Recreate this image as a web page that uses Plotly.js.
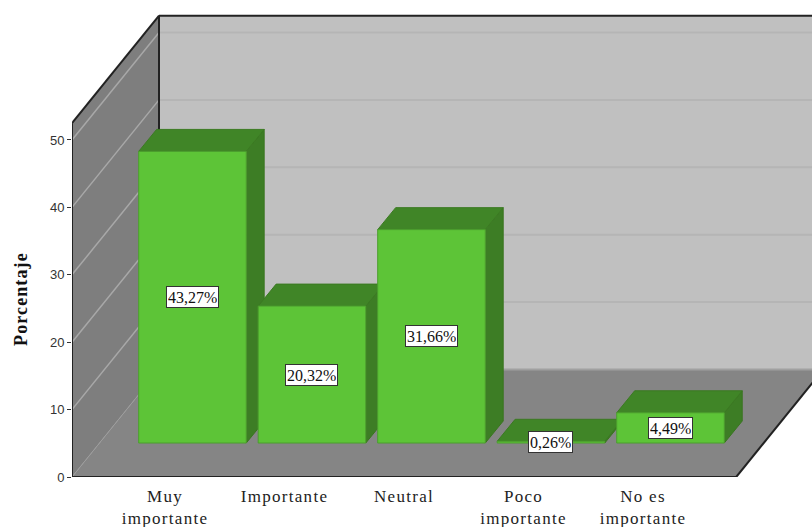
<!DOCTYPE html>
<html>
<head>
<meta charset="utf-8">
<script src="https://cdn.plot.ly/plotly-3.0.1.min.js"></script>
<style>
html,body{margin:0;padding:0;background:#fff}
#chart{width:812px;height:527px}
/* Wide tracking on the category names and the axis title */
#chart .xtick text{letter-spacing:1.3px}
#chart .annotation[data-index="5"] text{letter-spacing:1.1px}
</style>
</head>
<body>
<div id="chart"></div>
<script>
// Survey answers, percentage of respondents
const categories = ['Muy<br>importante', 'Importante', 'Neutral', 'Poco<br>importante', 'No es<br>importante'];
const percentages = [43.27, 20.32, 31.66, 0.26, 4.49];
const percentLabels = ['43,27%', '20,32%', '31,66%', '0,26%', '4,49%'];
const yTicks = [0, 10, 20, 30, 40, 50];

// Oblique projection, in axis units
const WALL_TOP = 52.5;      // wall height on the front plane
const BOX_DX = 0.728;       // shift of the back wall along x
const BOX_DY = 15.95;       // shift of the back wall along y
const BAR_DX = 0.23;        // bar front plane, shift from the front of the floor
const BAR_DY = 5.04;
const BAR_DEPTH_X = 0.15;   // bar depth
const BAR_DEPTH_Y = 3.26;
const BAR_WIDTH = 0.9;
const X_MIN = -0.778, X_MAX = 5.414, Y_MAX = 70.77;
const FLOOR_RIGHT = 4.78;

const poly = (pts, fill, line, width) => ({
  type: 'path', xref: 'x', yref: 'y', layer: 'below',
  path: 'M' + pts.map(p => p[0] + ',' + p[1]).join('L') + 'Z',
  fillcolor: fill, line: {color: line || fill, width: width === undefined ? 1 : width}
});
const seg = (x0, y0, x1, y1, color, width, layer) => ({
  type: 'line', xref: 'x', yref: 'y', layer: layer || 'below',
  x0, y0, x1, y1, line: {color, width}
});

const shapes = [];
// Back wall, side wall, floor
shapes.push(poly([[X_MIN + BOX_DX, BOX_DY], [X_MAX + 1, BOX_DY], [X_MAX + 1, WALL_TOP + BOX_DY], [X_MIN + BOX_DX, WALL_TOP + BOX_DY]], '#c0c0c0', '#c0c0c0', 0));
shapes.push(poly([[X_MIN, 0], [X_MIN + BOX_DX, BOX_DY], [X_MIN + BOX_DX, WALL_TOP + BOX_DY], [X_MIN, WALL_TOP]], '#7e7e7e', '#7e7e7e', 0));
shapes.push(poly([[X_MIN, 0], [FLOOR_RIGHT, 0], [FLOOR_RIGHT + BOX_DX, BOX_DY], [X_MIN + BOX_DX, BOX_DY]], '#858585', '#858585', 0));

// Grid lines across both walls
yTicks.forEach(v => {
  const strong = v === 0;
  shapes.push(seg(X_MIN + BOX_DX, v + BOX_DY, X_MAX + 1, v + BOX_DY, strong ? '#a0a0a0' : '#b5b5b5', 2));
  shapes.push(seg(X_MIN, v, X_MIN + BOX_DX, v + BOX_DY, strong ? '#9c9c9c' : '#a8a8a8', strong ? 1 : 1.5));
});

// Box frame
shapes.push(seg(X_MIN + BOX_DX, BOX_DY, X_MIN + BOX_DX, WALL_TOP + BOX_DY, '#222222', 2));
shapes.push(seg(X_MIN + BOX_DX, WALL_TOP + BOX_DY, X_MAX + 1, WALL_TOP + BOX_DY, '#222222', 2));
shapes.push(seg(X_MIN, WALL_TOP, X_MIN + BOX_DX, WALL_TOP + BOX_DY, '#222222', 2));
shapes.push(seg(X_MIN, 0, X_MIN, WALL_TOP, '#222222', 2));
shapes.push(seg(X_MIN, 0, FLOOR_RIGHT, 0, '#222222', 2));
shapes.push(seg(FLOOR_RIGHT, 0, FLOOR_RIGHT + BOX_DX, BOX_DY, '#222222', 2));

// Top and side faces of each bar, left to right; the front faces are the bar trace
percentages.forEach((v, i) => {
  const x0 = i + BAR_DX - BAR_WIDTH / 2, x1 = i + BAR_DX + BAR_WIDTH / 2;
  const y0 = BAR_DY, y1 = BAR_DY + v;
  shapes.push(poly([[x1, y0], [x1 + BAR_DEPTH_X, y0 + BAR_DEPTH_Y], [x1 + BAR_DEPTH_X, y1 + BAR_DEPTH_Y], [x1, y1]], '#3d7d25', '#39751f'));
  shapes.push(poly([[x0, y1], [x1, y1], [x1 + BAR_DEPTH_X, y1 + BAR_DEPTH_Y], [x0 + BAR_DEPTH_X, y1 + BAR_DEPTH_Y]], '#408527', '#3b7a22'));
});

const annotations = percentages.map((v, i) => ({
  x: i + BAR_DX, y: BAR_DY + v / 2, xref: 'x', yref: 'y',
  text: percentLabels[i], showarrow: false, height: 18,
  font: {family: '"Liberation Serif", serif', size: 16, color: '#111111'},
  bgcolor: '#ffffff', bordercolor: '#333333', borderwidth: 1, borderpad: 1
}));
annotations.push({
  xref: 'paper', yref: 'paper', x: -0.0685, y: 0.373, xanchor: 'center', yanchor: 'middle',
  text: '<b>Porcentaje</b>', textangle: -90, showarrow: false,
  font: {family: '"Liberation Serif", serif', size: 18, color: '#111111'}
});

const frontFaces = {
  type: 'bar',
  x: percentages.map((_, i) => i + BAR_DX),
  y: percentages,
  base: percentages.map(() => BAR_DY),
  width: BAR_WIDTH,
  marker: {color: '#5dc437', line: {color: '#4c9e2e', width: 1}},
  hoverinfo: 'skip'
};

const layout = {
  width: 812, height: 527,
  margin: {l: 72, r: 0, t: 0, b: 50},
  paper_bgcolor: '#ffffff', plot_bgcolor: 'rgba(0,0,0,0)',
  showlegend: false,
  xaxis: {
    range: [X_MIN, X_MAX], tickmode: 'array',
    tickvals: categories.map((_, i) => i), ticktext: categories,
    ticks: '', showgrid: false, zeroline: false, showline: false,
    ticklabelstandoff: 7, tickangle: 0,
    tickfont: {family: '"Liberation Serif", serif', size: 17, color: '#222222'}
  },
  yaxis: {
    range: [0, Y_MAX], tickmode: 'array',
    tickvals: yTicks, ticktext: yTicks.map(String),
    ticks: 'outside', ticklen: 4, tickwidth: 1, tickcolor: '#333333',
    showgrid: false, zeroline: false, showline: false,
    tickfont: {family: '"Liberation Sans", Arial, sans-serif', size: 13, color: '#333333'}
  },
  shapes, annotations
};

Plotly.newPlot('chart', [frontFaces], layout, {displayModeBar: false, staticPlot: true});
</script>
</body>
</html>
